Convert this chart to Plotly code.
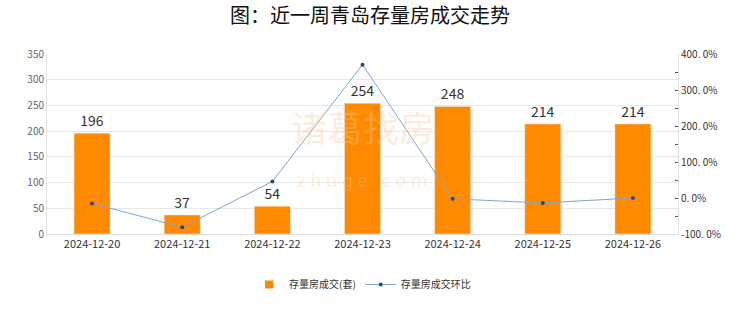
import plotly.graph_objects as go

dates = ["2024-12-20", "2024-12-21", "2024-12-22", "2024-12-23", "2024-12-24", "2024-12-25", "2024-12-26"]
volume = [196, 37, 54, 254, 248, 214, 214]
mom_pct = [-15.0, -81.1, 45.9, 370.4, -2.4, -13.7, 0.0]
left_ticks = [0, 50, 100, 150, 200, 250, 300, 350]
right_ticks = [-100, 0, 100, 200, 300, 400]
right_labels = ["-100. 0%", "0. 0%", "100. 0%", "200. 0%", "300. 0%", "400. 0%"]

fig = go.Figure()
fig.add_trace(go.Bar(
    x=dates, y=volume, name="存量房成交(套)", showlegend=False,
    marker=dict(color="#FF8A00"), width=0.4,
    text=[str(v) for v in volume], textposition="outside",
    textfont=dict(size=14, color="#333333"), cliponaxis=False,
))
fig.add_trace(go.Scatter(
    x=[dates[0]], y=[None], name="存量房成交(套)", mode="markers",
    marker=dict(color="#FF8A00", symbol="square", size=8),
))
fig.add_trace(go.Scatter(
    x=dates, y=mom_pct, name="存量房成交环比", yaxis="y2",
    mode="lines+markers",
    line=dict(color="#7BA7D6", width=1),
    marker=dict(color="#2E4A66", size=4),
))

fig.add_annotation(x=0.5, y=0.6, xref="paper", yref="paper",
                   text="诸葛找房", showarrow=False,
                   font=dict(size=36, color="rgba(250,200,160,0.35)", family="Noto Sans CJK SC"))
fig.add_annotation(x=0.5, y=0.22, xref="paper", yref="paper",
                   text="z h u g e . c o m", showarrow=False,
                   font=dict(size=18, color="rgba(250,200,160,0.35)", family="Noto Sans"))

fig.update_layout(
    width=740, height=312,
    margin=dict(l=47, r=62, t=54, b=78),
    paper_bgcolor="white", plot_bgcolor="white",
    font=dict(family="Noto Sans CJK SC, Noto Sans, sans-serif", color="#333333"),
    title=dict(text="图：近一周青岛存量房成交走势", x=0.5, xanchor="center", y=0.95, yanchor="middle",
               font=dict(size=20, color="#111111")),
    bargap=0.6,
    xaxis=dict(type="category", showgrid=False, showline=True, linecolor="#dddddd",
               tickfont=dict(size=11, color="#333333"), ticks=""),
    yaxis=dict(range=[0, 350], tickvals=left_ticks, showgrid=True, gridcolor="#e8e8e8",
               showline=True, linecolor="#e0e0e0", tickfont=dict(size=10, color="#666666"),
               zeroline=False, ticks=""),
    yaxis2=dict(range=[-100, 400], overlaying="y", side="right", tickvals=right_ticks,
                ticktext=right_labels, showgrid=False, showline=True, linecolor="#e0e0e0",
                tickfont=dict(size=10, color="#333333"), ticks="inside", ticklen=3,
                tickcolor="#555555", zeroline=False,
                minor=dict(ticks="inside", ticklen=3, tickcolor="#555555", dtick=50)),
    legend=dict(orientation="h", x=0.5, xanchor="center", y=-0.2, yanchor="top",
                font=dict(size=10, color="#333333")),
    showlegend=True,
)

fig.write_html("out.html")
